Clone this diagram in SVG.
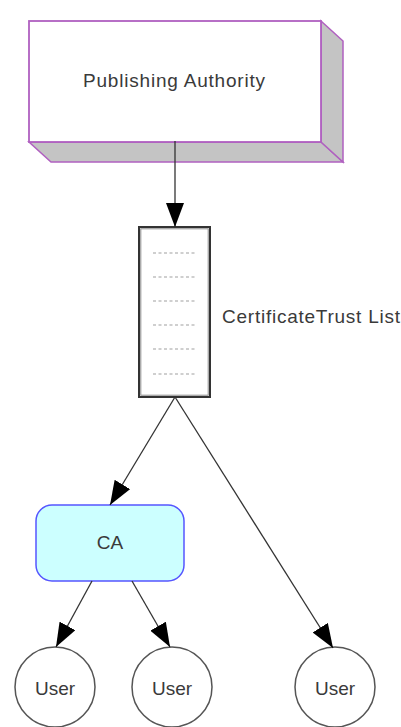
<svg xmlns="http://www.w3.org/2000/svg" width="401" height="727" viewBox="0 0 401 727">
  <style>
    .lbl { font-family: "Liberation Sans", Arial, sans-serif; font-size: 19px; fill: #3a3a3a; }
    .edge { stroke: #333; stroke-width: 1.3; fill: none; }
    .user { fill: #fff; stroke: #555; stroke-width: 1.5; }
    .dots { stroke: #a0a0a0; stroke-width: 1.2; stroke-dasharray: 3 2.5; }
  </style>
  <defs>
    <marker id="arrow" viewBox="0 0 24 18" refX="24" refY="9" markerWidth="24" markerHeight="18" markerUnits="userSpaceOnUse" orient="auto">
      <path d="M0,0 L24,9 L0,18 Z" fill="#000"/>
    </marker>
  </defs>
  <rect width="401" height="727" fill="#fff"/>

  <!-- publishing authority: 3D block with depth to lower right -->
  <g id="publishing-authority">
    <polygon points="29,142 321,142 343,162 51,162" fill="#c4c4c4" stroke="#b060c0" stroke-width="1.5"/>
    <polygon points="321,21 343,41 343,162 321,142" fill="#c4c4c4" stroke="#b060c0" stroke-width="1.5"/>
    <rect x="29" y="21" width="292" height="121" fill="#fff" stroke="#b060c0" stroke-width="1.8"/>
    <text class="lbl" x="174" y="87" text-anchor="middle" textLength="182">Publishing Authority</text>
  </g>

  <!-- certificate trust list: tall list box with dotted rows -->
  <g id="certificate-trust-list">
    <rect x="139" y="227" width="71" height="170" fill="#fff" stroke="#333" stroke-width="2"/>
    <rect x="140.8" y="228.8" width="67.4" height="166.4" fill="none" stroke="#888" stroke-width="1"/>
    <line class="dots" x1="153" y1="253" x2="197" y2="253"/>
    <line class="dots" x1="153" y1="277" x2="197" y2="277"/>
    <line class="dots" x1="153" y1="301" x2="197" y2="301"/>
    <line class="dots" x1="153" y1="325" x2="197" y2="325"/>
    <line class="dots" x1="153" y1="349" x2="197" y2="349"/>
    <line class="dots" x1="153" y1="374" x2="197" y2="374"/>
    <text class="lbl" x="222" y="323" textLength="178">CertificateTrust List</text>
  </g>

  <!-- certification authority -->
  <g id="ca">
    <rect x="36" y="505" width="148" height="76" rx="16" ry="16" fill="#ccffff" stroke="#5555ff" stroke-width="1.5"/>
    <text class="lbl" x="110" y="549" text-anchor="middle">CA</text>
  </g>

  <!-- end users -->
  <g id="user-1">
    <circle class="user" cx="55" cy="687" r="40"/>
    <text class="lbl" x="55" y="695" text-anchor="middle">User</text>
  </g>
  <g id="user-2">
    <circle class="user" cx="172" cy="687" r="40"/>
    <text class="lbl" x="172" y="695" text-anchor="middle">User</text>
  </g>
  <g id="user-3">
    <circle class="user" cx="335" cy="687" r="40"/>
    <text class="lbl" x="335" y="695" text-anchor="middle">User</text>
  </g>

  <!-- connectors -->
  <g id="connectors">
    <line class="edge" x1="175" y1="141" x2="175" y2="227" marker-end="url(#arrow)"/>
    <line class="edge" x1="175" y1="397" x2="110" y2="505" marker-end="url(#arrow)"/>
    <line class="edge" x1="175" y1="397" x2="333" y2="648" marker-end="url(#arrow)"/>
    <line class="edge" x1="92" y1="581" x2="56" y2="647" marker-end="url(#arrow)"/>
    <line class="edge" x1="132" y1="581" x2="170" y2="647" marker-end="url(#arrow)"/>
  </g>
</svg>
